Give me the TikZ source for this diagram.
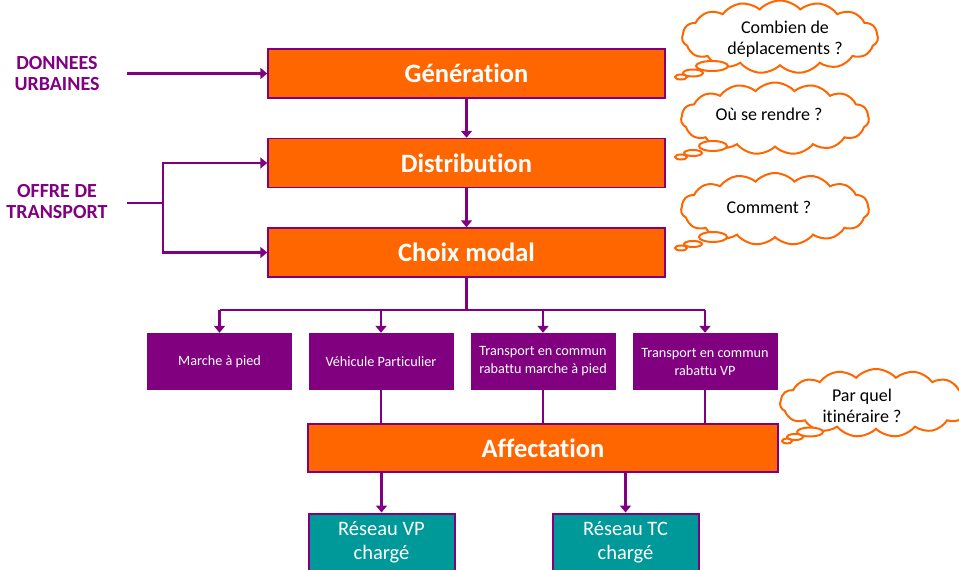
\documentclass[tikz,border=0pt]{standalone}
\usepackage{fontspec}
\setmainfont{Carlito}[Ligatures=NoCommon]
\usetikzlibrary{shapes.symbols,shapes.geometric,arrows.meta}
\definecolor{orng}{HTML}{FF6600}
\definecolor{purp}{HTML}{800080}
\definecolor{teal2}{HTML}{009999}
\begin{document}
\begin{tikzpicture}[x=1pt,y=-1pt,
  bigbox/.style={draw=purp,line width=1.5pt,fill=orng,text=white,font=\bfseries\fontsize{26.5}{30}\selectfont,minimum width=397pt,minimum height=49pt,inner sep=0pt},
  modebox/.style={fill=purp,text=white,font=\fontsize{14.2}{18}\selectfont,minimum width=145pt,minimum height=57pt,align=center,inner sep=0pt},
  netbox/.style={draw=purp,line width=2pt,fill=teal2,text=white,font=\fontsize{20.5}{24}\selectfont,minimum width=146pt,minimum height=58pt,align=center,inner sep=0pt},
  sidelabel/.style={text=purp,font=\bfseries\fontsize{20}{21}\selectfont,align=center},
  thought/.style={cloud,cloud puffs=15,cloud puff arc=95,cloud ignores aspect,draw=orng,line width=2pt,fill=white,inner sep=0pt},
  cloudtext/.style={font=\fontsize{18}{21}\selectfont,align=center,inner sep=0pt},
  bubble/.style={ellipse,draw=orng,line width=2pt,fill=white,inner sep=0pt},
  conn/.style={draw=purp,line width=2.5pt},
  arr/.style={conn,-{Triangle[width=11pt,length=7pt]}}
]
\useasboundingbox (0,0) rectangle (959,570);

% main boxes
\node[bigbox] (gen) at (466.5,73.5) {Génération};
\node[bigbox] (dist) at (466.5,163) {Distribution};
\node[bigbox] (choix) at (466.5,252.5) {Choix modal};

% side labels
\node[sidelabel] (don) at (57,74) {DONNEES\\URBAINES};
\node[sidelabel] (off) at (57,202) {OFFRE DE\\TRANSPORT};
\coordinate (donr) at (127,73.5);
\coordinate (offr) at (127,203);
\coordinate (br) at (163,203);

\draw[arr] (donr) -- (gen.west);
\draw[conn] (offr) -- (br);
\draw[arr] (br) |- (dist.west);
\draw[arr] (br) |- (choix.west);

\draw[arr] (gen) -- (dist);
\draw[arr] (dist) -- (choix);

% modes
\node[modebox] (m1) at (219.5,361.5) {Marche à pied};
\node[modebox] (m2) at (381,361.5) {Véhicule Particulier};
\node[modebox] (m3) at (543,361.5) {Transport en commun\\rabattu marche à pied};
\node[modebox] (m4) at (705,361.5) {Transport en commun\\rabattu VP};

\coordinate (split) at (466.5,310);
\draw[conn] (choix.south) -- (split);
\draw[conn] (m1.north |- split) -- (m4.north |- split);
\foreach \m in {m1,m2,m3,m4}{\draw[arr] (\m.north |- split) -- (\m.north);}

% affectation
\node[bigbox,minimum width=470pt,minimum height=48pt] (aff) at (543,448) {Affectation};
\foreach \m in {m2,m3,m4}{\draw[conn] (\m.south) -- (\m.south |- aff.north);}

% networks
\node[netbox] (vp) at (381.5,542.5) {Réseau VP\\chargé};
\node[netbox] (tc) at (625.5,542.5) {Réseau TC\\chargé};
\draw[arr] (aff.south -| vp) -- (vp.north);
\draw[arr] (aff.south -| tc) -- (tc.north);

% thought clouds
\node[thought,minimum width=196pt,minimum height=73pt] (c1) at (780,37) {};
\node[cloudtext] (t1) at (785,39) {Combien de\\déplacements ?};
\node[bubble,minimum width=32pt,minimum height=10pt] (c1a) at (712,66) {};
\node[bubble,minimum width=20pt,minimum height=7pt] (c1b) at (693,73) {};
\node[bubble,minimum width=12pt,minimum height=5pt] (c1c) at (681,77) {};

\node[thought,minimum width=188pt,minimum height=72pt] (c2) at (775,118.5) {};
\node[cloudtext] (t2) at (769,114) {Où se rendre ?};
\node[bubble,minimum width=28pt,minimum height=10pt] (c2a) at (713,146) {};
\node[bubble,minimum width=18pt,minimum height=6pt] (c2b) at (693,153) {};
\node[bubble,minimum width=12pt,minimum height=5pt] (c2c) at (681,157) {};

\node[thought,minimum width=188pt,minimum height=72pt] (c3) at (775,209) {};
\node[cloudtext] (t3) at (769,207) {Comment ?};
\node[bubble,minimum width=28pt,minimum height=10pt] (c3a) at (713,237) {};
\node[bubble,minimum width=18pt,minimum height=6pt] (c3b) at (693,244) {};
\node[bubble,minimum width=12pt,minimum height=5pt] (c3c) at (681,248) {};

\node[thought,minimum width=192pt,minimum height=68pt] (c4) at (876,403) {};
\node[cloudtext] (t4) at (862,406) {Par quel\\itinéraire ?};
\node[bubble,minimum width=26pt,minimum height=9pt] (c4a) at (810,432) {};
\node[bubble,minimum width=16pt,minimum height=6pt] (c4b) at (795,437) {};
\node[bubble,minimum width=10pt,minimum height=5pt] (c4c) at (787,441) {};
\end{tikzpicture}
\end{document}
